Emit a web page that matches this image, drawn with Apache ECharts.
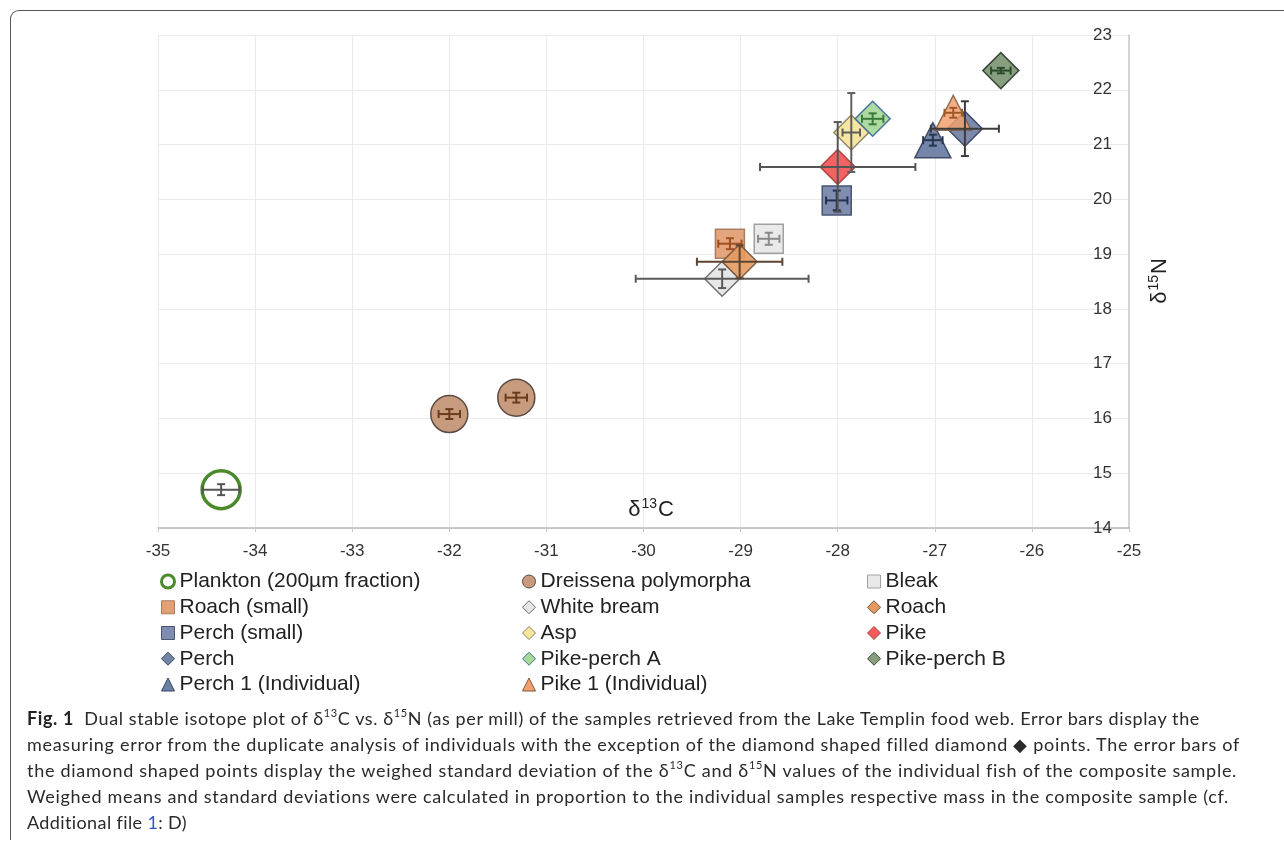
<!DOCTYPE html>
<html>
<head>
<meta charset="utf-8">
<script src="https://cdn.jsdelivr.net/npm/echarts@6/dist/echarts.min.js"></script>
<style>
  html, body { margin: 0; padding: 0; background: #fff; }
  #wrap { position: relative; width: 1284px; height: 841px; overflow: hidden; }
  #chart { position: absolute; left: 0; top: 0; width: 1284px; height: 841px; }
  #frame { position: absolute; left: 10px; top: 10px; width: 1400px; height: 829px;
           border-left: 1.5px solid #555; border-top: 1.5px solid #555; border-top-left-radius: 9px; pointer-events: none; }
  .cap { position: absolute; left: 27px; white-space: nowrap; font-family: Lato, "Open Sans", sans-serif;
         font-weight: 400; font-size: 18px; color: #2a2a2a; line-height: 24px; }
  .cap b { font-weight: 700; color: #222; }
  .cap sup { font-size: 11px; line-height: 0; position: relative; top: -1px; }
  .cap .lnk { color: #3355cc; }
</style>
</head>
<body>
<div id="wrap">
  <div id="frame"></div>
  <div id="chart"></div>
  <div class="cap" id="c1" data-w="1173" style="top:706px"><b>Fig. 1</b>&nbsp; Dual stable isotope plot of δ<sup>13</sup>C vs. δ<sup>15</sup>N (as per mill) of the samples retrieved from the Lake Templin food web. Error bars display the</div>
  <div class="cap" id="c2" data-w="1213" style="top:732px">measuring error from the duplicate analysis of individuals with the exception of the diamond shaped filled diamond ◆ points. The error bars of</div>
  <div class="cap" id="c3" data-w="1210" style="top:758px">the diamond shaped points display the weighed standard deviation of the δ<sup>13</sup>C and δ<sup>15</sup>N values of the individual fish of the composite sample.</div>
  <div class="cap" id="c4" data-w="1203" style="top:784px">Weighed means and standard deviations were calculated in proportion to the individual samples respective mass in the composite sample (cf.</div>
  <div class="cap" id="c5" data-w="160" style="top:810px">Additional file <span class="lnk">1</span>: D)</div>
</div>
<script>
// ---------------- data ----------------
const sampleNames = ['Plankton (200µm fraction)', 'Dreissena polymorpha', 'Bleak', 'Roach (small)', 'White bream', 'Roach',
  'Perch (small)', 'Asp', 'Pike', 'Perch', 'Pike-perch A', 'Pike-perch B', 'Perch 1 (Individual)', 'Pike 1 (Individual)'];
// one entry per plotted point
const pointSample = [0, 1, 1, 2, 3, 4, 5, 6, 7, 8, 9, 10, 11, 12, 13];
const d13C = [-34.35, -32.00, -31.31, -28.71, -29.11, -29.19, -29.01, -28.01, -27.86, -28.00, -26.69, -27.64, -26.32, -27.02, -26.81];
const d15N = [14.70, 16.08, 16.38, 19.28, 19.19, 18.55, 18.86, 19.98, 21.22, 20.59, 21.29, 21.47, 22.35, 21.08, 21.58];
const errC = [0.19, 0.11, 0.11, 0.11, 0.12, 0.89, 0.44, 0.11, 0.09, 0.80, 0.35, 0.11, 0.10, 0.10, 0.09];
const errN = [0.10, 0.09, 0.09, 0.11, 0.10, 0.17, 0.30, 0.18, 0.72, 0.82, 0.50, 0.10, 0.05, 0.10, 0.09];
const xTicks = [-35, -34, -33, -32, -31, -30, -29, -28, -27, -26, -25];
const yTicks = [14, 15, 16, 17, 18, 19, 20, 21, 22, 23];

// ---------------- styles ----------------
const styles = [
  { symbol: 'circle',   size: 38, fill: '#ffffff', border: '#4b8a2b', bw: 3.5, bar: '#555555', op: 1 },
  { symbol: 'circle',   size: 37, fill: '#c79b7e', border: '#5a4a40', bw: 1.5, bar: '#6b3b1b', op: 1 },
  { symbol: 'rect',     size: 29, fill: '#e9e9e9', border: '#a0a0a0', bw: 1.5, bar: '#8a8a8a', op: 1 },
  { symbol: 'rect',     size: 29, fill: '#e3a077', border: '#a87a5c', bw: 1.5, bar: '#a0501c', op: 0.95 },
  { symbol: 'diamond',  size: 35, fill: '#e6e6e6', border: '#6a6a6a', bw: 1.5, bar: '#5a5a5a', op: 0.95 },
  { symbol: 'diamond',  size: 35, fill: '#e5995f', border: '#6e5440', bw: 1.5, bar: '#5e4432', op: 0.9 },
  { symbol: 'rect',     size: 29, fill: '#7f8db0', border: '#4a5572', bw: 1.5, bar: '#24324f', op: 1 },
  { symbol: 'diamond',  size: 35, fill: '#f7e59c', border: '#8a8266', bw: 1.5, bar: '#5e5e5e', op: 0.95 },
  { symbol: 'diamond',  size: 35, fill: '#f25b5b', border: '#b03a3a', bw: 1.5, bar: '#555555', op: 0.95 },
  { symbol: 'diamond',  size: 35, fill: '#7484a6', border: '#3a4560', bw: 1.5, bar: '#3c3c3c', op: 0.95 },
  { symbol: 'diamond',  size: 35, fill: '#a9d89b', border: '#3e6e9a', bw: 1.5, bar: '#3a7a3a', op: 0.95 },
  { symbol: 'diamond',  size: 36, fill: '#879f7f', border: '#3a4a3a', bw: 1.5, bar: '#2a4a2a', op: 1 },
  { symbol: 'triangle', size: [36, 35], fill: '#6c80a4', border: '#3a4560', bw: 1.5, bar: '#2a3550', op: 0.95 },
  { symbol: 'triangle', size: [36, 35], fill: '#f2a070', border: '#7a5a40', bw: 1.5, bar: '#a05a28', op: 0.85 }
];

const chart = echarts.init(document.getElementById('chart'), null, { renderer: 'canvas' });

function pointsOf(si) {
  const out = [];
  pointSample.forEach((s, i) => { if (s === si) out.push([d13C[i], d15N[i], errC[i], errN[i]]); });
  return out;
}

const series = [];
sampleNames.forEach((name, si) => {
  const st = styles[si];
  series.push({
    type: 'scatter', name: name, symbol: st.symbol, symbolSize: st.size, z: 2,
    itemStyle: { color: st.fill, borderColor: st.border, borderWidth: st.bw, opacity: st.op },
    emphasis: { disabled: true },
    data: pointsOf(si).map(p => [p[0], p[1]])
  });
});
sampleNames.forEach((name, si) => {
  const st = styles[si];
  series.push({
    type: 'custom', name: name + ' error', z: 5, silent: true,
    data: pointsOf(si),
    encode: { x: 0, y: 1 },
    renderItem: function (params, api) {
      const x = api.value(0), y = api.value(1), ex = api.value(2), ey = api.value(3);
      const l = api.coord([x - ex, y]), r = api.coord([x + ex, y]);
      const t = api.coord([x, y + ey]), b = api.coord([x, y - ey]);
      const cap = 4;
      const style = { stroke: st.bar, lineWidth: 2 };
      const ln = (x1, y1, x2, y2) => ({ type: 'line', shape: { x1, y1, x2, y2 }, style });
      return { type: 'group', children: [
        ln(l[0], l[1], r[0], r[1]),
        ln(l[0], l[1] - cap, l[0], l[1] + cap),
        ln(r[0], r[1] - cap, r[0], r[1] + cap),
        ln(t[0], t[1], b[0], b[1]),
        ln(t[0] - cap, t[1], t[0] + cap, t[1]),
        ln(b[0] - cap, b[1], b[0] + cap, b[1])
      ] };
    }
  });
});

const FONT = 'Liberation Sans, Arial, sans-serif';
const legendText = { fontFamily: FONT, fontSize: 21, color: '#222', lineHeight: 21 };
function legendCol(col, left) {
  const data = sampleNames.filter((n, i) => i % 3 === col).map(n => {
    const st = styles[sampleNames.indexOf(n)];
    return { name: n, icon: st.symbol,
      itemStyle: { color: st.fill, borderColor: st.border, borderWidth: st.symbol === 'circle' && st.fill === '#ffffff' ? 3 : 1, opacity: 1 } };
  });
  return { orient: 'vertical', left: left, top: 571, padding: 0, itemGap: 4.75, itemWidth: 13, itemHeight: 13,
    selectedMode: false, textStyle: legendText, data: data };
}

const nameRich = {
  d: { fontFamily: FONT, fontSize: 22, fill: '#222', verticalAlign: 'bottom', lineHeight: 26 },
  s: { fontFamily: FONT, fontSize: 14, fill: '#222', verticalAlign: 'bottom', lineHeight: 26, padding: [0, 1, 10, 1] }
};

const option = {
  animation: false,
  backgroundColor: 'transparent',
  grid: { left: 158, right: 155, top: 35, bottom: 313, containLabel: false },
  xAxis: {
    type: 'value', min: xTicks[0], max: xTicks[xTicks.length - 1], interval: 1, position: 'bottom',
    axisLine: { show: true, lineStyle: { color: '#b8b8b8', width: 1.5 } },
    axisTick: { show: true, length: 4, lineStyle: { color: '#c8c8c8' } },
    axisLabel: { fontFamily: FONT, fontSize: 17, color: '#333', margin: 15 },
    splitLine: { show: true, lineStyle: { color: '#ebebeb', width: 1 } }
  },
  yAxis: {
    type: 'value', min: yTicks[0], max: yTicks[yTicks.length - 1], interval: 1, position: 'right',
    axisLine: { show: true, lineStyle: { color: '#c8c8c8', width: 1.5 } },
    axisTick: { show: false },
    axisLabel: { inside: true, fontFamily: FONT, fontSize: 17, color: '#333', margin: 17 },
    splitLine: { show: true, lineStyle: { color: '#ebebeb', width: 1 } }
  },
  graphic: [
    { type: 'text', x: 651, y: 508, z: 10, silent: true,
      style: { text: '{d|δ}{s|13}{d|C}', rich: nameRich, align: 'center', verticalAlign: 'middle' } },
    { type: 'text', x: 1158, y: 281, rotation: Math.PI / 2, z: 10, silent: true,
      style: { text: '{d|δ}{s|15}{d|N}', rich: nameRich, align: 'center', verticalAlign: 'middle' } }
  ],
  legend: [legendCol(0, 160), legendCol(1, 522), legendCol(2, 867)],
  series: series
};
chart.setOption(option);

// fit caption lines to their measured widths in the reference
document.querySelectorAll('.cap').forEach(el => {
  const target = parseFloat(el.dataset.w);
  const w = el.getBoundingClientRect().width;
  const n = el.textContent.length;
  el.style.letterSpacing = ((target - w) / n).toFixed(3) + 'px';
});
</script>
</body>
</html>
